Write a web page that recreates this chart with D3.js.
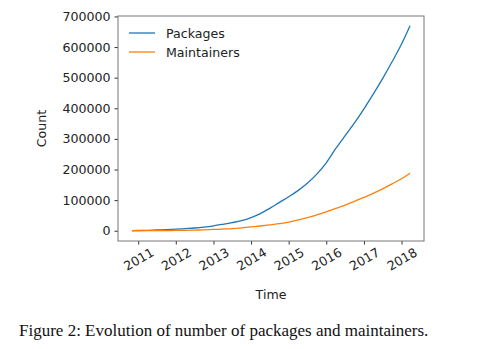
<!DOCTYPE html>
<html>
<head>
<meta charset="utf-8">
<script src="https://cdn.jsdelivr.net/npm/d3@7"></script>
<style>
  html, body { margin: 0; padding: 0; background: #fff; }
  svg { display: block; }
</style>
</head>
<body>
<script>
// Quarterly samples, from the first record to the last snapshot
const dates = [
  "2010-11-01",
  "2011-01-01", "2011-04-01", "2011-07-01", "2011-10-01",
  "2012-01-01", "2012-04-01", "2012-07-01", "2012-10-01",
  "2013-01-01", "2013-04-01", "2013-07-01", "2013-10-01",
  "2014-01-01", "2014-04-01", "2014-07-01", "2014-10-01",
  "2015-01-01", "2015-04-01", "2015-07-01", "2015-10-01",
  "2016-01-01", "2016-04-01", "2016-07-01", "2016-10-01",
  "2017-01-01", "2017-04-01", "2017-07-01", "2017-10-01",
  "2018-01-01", "2018-03-25"
];
const packages = [
  200,
  800, 1500, 2500, 3500,
  5000, 7000, 9000, 12000,
  16000, 21000, 26500, 33000,
  43000, 56000, 73000, 92000,
  111000, 131000, 155000, 185000,
  222000, 268000, 310000, 352000,
  398000, 446000, 497000, 552000,
  610000, 670000
];
const maintainers = [
  0,
  100, 300, 500, 700,
  1000, 1500, 2200, 3000,
  4200, 5500, 7000, 9500,
  12500, 15500, 19000, 23000,
  28000, 35000, 43000, 52000,
  62000, 73000, 84000, 96000,
  109000, 122000, 137000, 153000,
  170000, 188000
];
const seriesNames = ["Packages", "Maintainers"];
const yTicks = [0, 100000, 200000, 300000, 400000, 500000, 600000, 700000];
const xTickYears = [2011, 2012, 2013, 2014, 2015, 2016, 2017, 2018];
const caption = "Figure 2: Evolution of number of packages and maintainers.";

const W = 480, H = 349;
const plot = { left: 118, right: 424, top: 16, bottom: 241 };
const colors = ["#1f77b4", "#ff7f0e"];

const parse = d3.timeParse("%Y-%m-%d");
const t = dates.map(parse);

const svg = d3.select("body").append("svg")
  .attr("width", W).attr("height", H)
  .style("font-family", "'DejaVu Sans', sans-serif");

// Domains padded like matplotlib's default 5% margins
const tExt = d3.extent(t);
const span = tExt[1] - tExt[0];
const x = d3.scaleTime()
  .domain([new Date(+tExt[0] - span * 0.05), new Date(+tExt[1] + span * 0.05)])
  .range([plot.left, plot.right]);

const yMax = d3.max(packages);
const y = d3.scaleLinear()
  .domain([-yMax * 0.05, 700000 + 1500])
  .range([plot.bottom, plot.top]);

// Lines
const line = d3.line()
  .x((d, i) => x(t[i]))
  .y(d => y(d))
  .curve(d3.curveMonotoneX);

[packages, maintainers].forEach((vals, k) => {
  svg.append("path")
    .datum(vals)
    .attr("d", line)
    .attr("fill", "none")
    .attr("stroke", colors[k])
    .attr("stroke-width", 1.3)
    .attr("stroke-linejoin", "round");
});

// Axes
const yAxis = d3.axisLeft(y)
  .tickValues(yTicks)
  .tickFormat(d3.format("d"))
  .tickSize(3.5)
  .tickPadding(4);
const gy = svg.append("g")
  .attr("transform", `translate(${plot.left},0)`)
  .call(yAxis);
gy.select(".domain").remove();
gy.selectAll(".tick line").attr("stroke", "#333");
gy.selectAll(".tick text")
  .attr("fill", "#222")
  .style("font-size", "12.6px")
  .style("font-family", "'DejaVu Sans', sans-serif");

const xAxis = d3.axisBottom(x)
  .tickValues(xTickYears.map(yr => new Date(yr, 0, 1)))
  .tickFormat(d3.timeFormat("%Y"))
  .tickSize(3.5)
  .tickPadding(0);
const gx = svg.append("g")
  .attr("transform", `translate(0,${plot.bottom})`)
  .call(xAxis);
gx.select(".domain").remove();
gx.selectAll(".tick line").attr("stroke", "#333");
gx.selectAll(".tick text")
  .attr("fill", "#222")
  .attr("y", 0).attr("dy", 0)
  .attr("text-anchor", "middle")
  .attr("dominant-baseline", "central")
  .attr("transform", "translate(0,18) rotate(-30)")
  .style("font-size", "12.6px")
  .style("font-family", "'DejaVu Sans', sans-serif");

// Frame
svg.append("rect")
  .attr("x", plot.left).attr("y", plot.top)
  .attr("width", plot.right - plot.left)
  .attr("height", plot.bottom - plot.top)
  .attr("fill", "none")
  .attr("stroke", "#777")
  .attr("stroke-width", 1);

// Axis titles
svg.append("text")
  .attr("x", (plot.left + plot.right) / 2)
  .attr("y", 294)
  .attr("text-anchor", "middle")
  .attr("dominant-baseline", "central")
  .attr("fill", "#222")
  .style("font-size", "12.6px")
  .text("Time");

svg.append("text")
  .attr("transform", `translate(41,${(plot.top + plot.bottom) / 2}) rotate(-90)`)
  .attr("text-anchor", "middle")
  .attr("dominant-baseline", "central")
  .attr("fill", "#222")
  .style("font-size", "12.6px")
  .text("Count");

// Legend
const legend = svg.append("g");
seriesNames.forEach((name, k) => {
  const ly = 33 + k * 19;
  legend.append("line")
    .attr("x1", 129).attr("x2", 155)
    .attr("y1", ly).attr("y2", ly)
    .attr("stroke", colors[k])
    .attr("stroke-width", 1.3);
  legend.append("text")
    .attr("x", 166).attr("y", ly)
    .attr("dominant-baseline", "central")
    .attr("fill", "#222")
    .style("font-size", "12.6px")
    .text(name);
});

// Caption
svg.append("text")
  .attr("x", 19)
  .attr("y", 330)
  .attr("dominant-baseline", "central")
  .attr("fill", "#111")
  .style("font-family", "'Liberation Serif', 'Times New Roman', serif")
  .style("font-size", "17px")
  .text(caption);
</script>
</body>
</html>
